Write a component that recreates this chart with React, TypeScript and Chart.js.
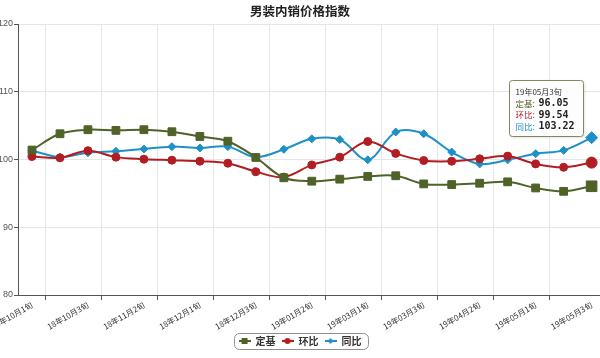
import React, { useEffect, useRef } from "react";
import { Chart, registerables } from "chart.js";

Chart.register(...registerables);

const categories = [
  "18年10月1旬", "18年10月2旬", "18年10月3旬", "18年11月1旬", "18年11月2旬", "18年11月3旬",
  "18年12月1旬", "18年12月2旬", "18年12月3旬", "19年01月1旬", "19年01月2旬", "19年01月3旬",
  "19年03月1旬", "19年03月2旬", "19年03月3旬", "19年04月1旬", "19年04月2旬", "19年04月3旬",
  "19年05月1旬", "19年05月2旬", "19年05月3旬",
];

const dingji = [101.4, 103.8, 104.4, 104.3, 104.4, 104.1, 103.4, 102.7, 100.3, 97.3, 96.8, 97.1, 97.5, 97.6, 96.4, 96.3, 96.5, 96.7, 95.8, 95.3, 96.05];
const huanbi = [100.45, 100.25, 101.3, 100.35, 100.05, 99.9, 99.75, 99.45, 98.2, 97.4, 99.2, 100.35, 102.65, 100.9, 99.85, 99.75, 100.1, 100.5, 99.35, 98.85, 99.54];
const tongbi = [101.3, 100.35, 101.0, 101.2, 101.55, 101.9, 101.7, 101.9, 100.35, 101.5, 103.05, 102.95, 99.95, 104.05, 103.8, 101.1, 99.35, 99.95, 100.85, 101.35, 103.22];

const seriesNames = ["定基", "环比", "同比"];
const seriesColors = ["#4F6228", "#B01E23", "#1E90C8"];
const seriesStyles = ["rect", "circle", "rectRot"];
const yTicks = [80, 90, 100, 110, 120];
const title = "男装内销价格指数";

const CJK = '"Noto Sans CJK SC", "Liberation Sans", sans-serif';

function makeLegendSymbol(color: string, style: string): HTMLCanvasElement {
  const c = document.createElement("canvas");
  c.width = 12;
  c.height = 10;
  const g = c.getContext("2d")!;
  g.strokeStyle = color;
  g.fillStyle = color;
  g.lineWidth = 2;
  g.beginPath();
  g.moveTo(0, 5);
  g.lineTo(12, 5);
  g.stroke();
  g.beginPath();
  if (style === "rect") {
    g.rect(3, 2, 6, 6);
  } else if (style === "circle") {
    g.arc(6, 5, 3, 0, Math.PI * 2);
  } else {
    g.moveTo(6, 2);
    g.lineTo(9, 5);
    g.lineTo(6, 8);
    g.lineTo(3, 5);
    g.closePath();
  }
  g.fill();
  return c;
}

const legendBoxPlugin = {
  id: "legendBox",
  afterDraw(chart: any) {
    const boxes = chart.legend?.legendHitBoxes;
    if (!boxes || !boxes.length) return;
    const left = Math.min(...boxes.map((b: any) => b.left)) - 5;
    const right = Math.max(...boxes.map((b: any) => b.left + b.width)) + 6;
    const top = Math.min(...boxes.map((b: any) => b.top)) - 3;
    const bottom = Math.max(...boxes.map((b: any) => b.top + b.height)) + 3;
    const ctx = chart.ctx;
    ctx.save();
    ctx.strokeStyle = "#909090";
    ctx.lineWidth = 1;
    ctx.beginPath();
    (ctx as any).roundRect(Math.round(left) + 0.5, Math.round(top) + 0.5, Math.round(right - left), Math.round(bottom - top), 5);
    ctx.stroke();
    ctx.restore();
  },
};

const tooltipPlugin = {
  id: "fixedTooltip",
  afterDraw(chart: any) {
    const last = categories.length - 1;
    const values = [dingji, huanbi, tongbi];
    const pts = chart.data.datasets.map((_: any, i: number) => chart.getDatasetMeta(i).data[last]);
    const px = pts[0].x;
    const minY = Math.min(...pts.map((p: any) => p.y));
    const w = 74;
    const h = 56;
    const x = Math.round(px - 9 - w) + 0.5;
    const y = Math.round(minY - 2 - h) + 0.5;
    const ctx = chart.ctx;
    ctx.save();
    ctx.shadowColor = "rgba(0,0,0,0.15)";
    ctx.shadowBlur = 3;
    ctx.shadowOffsetX = 1;
    ctx.shadowOffsetY = 1;
    ctx.fillStyle = "rgba(255,255,255,0.92)";
    ctx.beginPath();
    ctx.roundRect(x, y, w, h, 3);
    ctx.fill();
    ctx.shadowColor = "transparent";
    ctx.strokeStyle = "#7d8a5e";
    ctx.lineWidth = 1;
    ctx.stroke();
    ctx.textBaseline = "middle";
    ctx.textAlign = "left";
    ctx.fillStyle = "#333";
    ctx.font = `8px ${CJK}`;
    ctx.fillText(categories[last], x + 6, y + 11);
    for (let i = 0; i < 3; i++) {
      const ry = y + 23 + i * 11.5;
      ctx.fillStyle = seriesColors[i];
      ctx.font = `8.5px ${CJK}`;
      ctx.fillText(seriesNames[i] + ":", x + 6, ry);
      ctx.fillStyle = "#222";
      ctx.font = `bold 10px "DejaVu Sans Mono", monospace`;
      ctx.fillText(values[i][last].toFixed(2), x + 29, ry);
    }
    ctx.restore();
  },
};

export default function App() {
  const ref = useRef<HTMLCanvasElement | null>(null);

  useEffect(() => {
    document.body.style.margin = "0";
    if (!ref.current) return;
    const last = categories.length - 1;
    const dataArrays = [dingji, huanbi, tongbi];
    const baseRadius = [5.5, 4, 4];
    const hoverRadius = [7.5, 5.5, 6];
    const chart = new Chart(ref.current, {
      type: "line",
      data: {
        datasets: dataArrays.map((d, i) => ({
          label: seriesNames[i],
          data: d.map((v, k) => ({ x: k, y: v })),
          borderColor: seriesColors[i],
          backgroundColor: seriesColors[i],
          pointBackgroundColor: seriesColors[i],
          pointBorderColor: seriesColors[i],
          pointBorderWidth: 1,
          pointStyle: seriesStyles[i] as any,
          pointRadius: (c: any) => (c.dataIndex === last ? hoverRadius[i] : baseRadius[i]),
          borderWidth: 2,
          tension: 0.35,
          fill: false,
        })),
      },
      options: {
        responsive: false,
        animation: false,
        devicePixelRatio: 1,
        layout: { autoPadding: false, padding: { left: 0, right: 0, top: 0, bottom: 2 } } as any,
        font: { family: CJK } as any,
        plugins: {
          title: {
            display: true,
            text: title,
            color: "#222",
            font: { size: 12.5, weight: "bold", family: CJK },
            padding: { top: 4, bottom: 5 },
          },
          legend: {
            position: "bottom",
            labels: {
              usePointStyle: true,
              pointStyleWidth: 12,
              padding: 6,
              color: "#333",
              font: { size: 10, weight: "bold", family: CJK },
              generateLabels: (ch: any) => {
                const items = (Chart.defaults.plugins.legend.labels as any).generateLabels(ch);
                return items.map((it: any, i: number) => ({
                  ...it,
                  pointStyle: makeLegendSymbol(seriesColors[i], seriesStyles[i]),
                }));
              },
            },
          },
          tooltip: { enabled: false },
        },
        scales: {
          x: {
            type: "linear",
            min: -0.5,
            max: categories.length - 0.7,
            afterBuildTicks: (s: any) => {
              s.ticks = categories.map((_, k) => ({ value: k }));
            },
            grid: {
              offset: true,
              color: (c: any) => (c.index % 2 === 1 ? "#e8e8e8" : "rgba(0,0,0,0)"),
              tickColor: (c: any) => (c.index % 2 === 1 ? "#555" : "rgba(0,0,0,0)"),
              tickLength: 5,
            },
            border: { color: "#555", width: 1 },
            ticks: {
              autoSkip: false,
              minRotation: 30,
              maxRotation: 30,
              padding: 0,
              color: "#333",
              font: { size: 8, family: CJK },
              callback: (v: any, i: number) => (i % 2 === 0 ? categories[Math.round(Number(v))] : ""),
            },
            afterFit: (s: any) => {
              s.paddingLeft = 0;
              s.paddingRight = 0;
              s.height = 35;
            },
          },
          y: {
            min: yTicks[0],
            max: yTicks[yTicks.length - 1],
            afterBuildTicks: (s: any) => {
              s.ticks = yTicks.map((v) => ({ value: v }));
            },
            grid: { color: "#e6e6e6", tickColor: "#555", tickLength: 4 },
            border: { color: "#555", width: 1 },
            ticks: {
              padding: 1,
              color: "#555",
              font: { size: 9, family: '"Liberation Sans", Arial, sans-serif' },
            },
            afterFit: (s: any) => {
              s.width = 18;
            },
          },
        },
      },
      plugins: [legendBoxPlugin, tooltipPlugin],
    });
    return () => chart.destroy();
  }, []);

  return (
    <div style={{ width: 600, height: 358 }}>
      <canvas ref={ref} width={600} height={358} />
    </div>
  );
}
